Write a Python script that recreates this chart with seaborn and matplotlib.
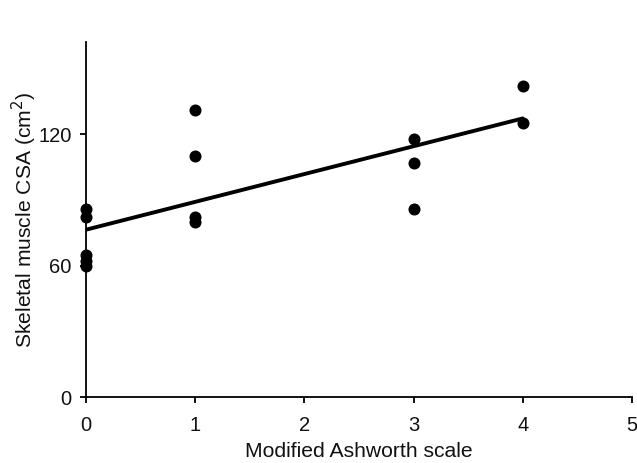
import numpy as np
import pandas as pd
import matplotlib
matplotlib.use("Agg")
import matplotlib.pyplot as plt
import seaborn as sns

# valores
ashworth = [0, 0, 0, 0, 0, 1, 1, 1, 1, 3, 3, 3, 4, 4]
csa = [86, 82, 65, 62, 60, 131, 110, 82, 80, 118, 107, 86, 142, 125]
x_ticks = [0, 1, 2, 3, 4, 5]
y_ticks = [0, 60, 120]

df = pd.DataFrame({"ashworth": ashworth, "csa": csa})

sns.set_style("ticks")
plt.rcParams["font.family"] = ["Liberation Sans", "DejaVu Sans"]
plt.rcParams["text.color"] = "#111111"
plt.rcParams["axes.labelcolor"] = "#111111"

fig = plt.figure(figsize=(6.37, 4.63), dpi=100)
ax = fig.add_axes([0.135, 0.1425, 0.857, 0.7665])

sns.regplot(data=df, x="ashworth", y="csa", ci=None, ax=ax,
            scatter_kws=dict(s=75, color="black", alpha=1, linewidths=0),
            line_kws=dict(color="black", lw=2.8))

ax.set_xlim(0, 5)
ax.set_ylim(0, 162)
ax.set_xticks(x_ticks)
ax.set_yticks(y_ticks)
ax.set_xlabel("Modified Ashworth scale", fontsize=15.2, labelpad=5)
ax.set_ylabel("Skeletal muscle CSA (cm$^2$)", fontsize=15.2, labelpad=-1)
ax.tick_params(axis="both", labelsize=14.5, direction="out", length=4.5, width=1.3,
               color="black", labelcolor="#111111")
ax.tick_params(axis="x", pad=9)
ax.tick_params(axis="y", pad=6)

sns.despine(ax=ax)
for s in ["left", "bottom"]:
    ax.spines[s].set_color("black")
    ax.spines[s].set_linewidth(1.3)

for p in ax.collections:
    p.set_clip_on(False)

fig.savefig("out.png", dpi=100)
